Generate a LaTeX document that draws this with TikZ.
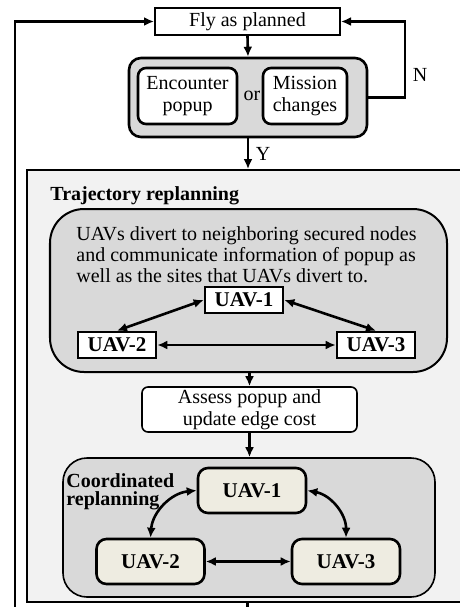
\documentclass[tikz,border=0pt]{standalone}
\usepackage{fontspec}
\setmainfont{Liberation Serif}
\usetikzlibrary{arrows.meta}
\definecolor{grisclair}{HTML}{F2F2F2}
\definecolor{gris}{HTML}{D9D9D9}
\definecolor{beige}{HTML}{EEECE1}

\begin{document}
\begin{tikzpicture}[x=0.5pt, y=-0.5pt, font=\fontsize{10}{11}\selectfont]
	\tikzset{boite/.style={draw=black, line width=1pt, inner sep=0pt}, fleche/.style={>={Latex[length=5pt,width=4.5pt]}, <-, line width=1.3pt}, duo/.style={>={Latex[length=5pt,width=4.5pt]}, <->, line width=1.3pt}, uav/.style={boite, line width=1.3pt, font=\fontsize{10.5}{11}\selectfont\bfseries}};
	\useasboundingbox (0,0) rectangle (460,607);

	\node[boite, fill=grisclair, minimum width=231.5pt, minimum height=216pt] (traj) at (258.5,386) {};

	\node[boite, fill=white, minimum width=92.5pt, minimum height=13.5pt] (fly) at (247.5,21.5) {Fly as planned};
	\node[boite, fill=gris, rounded corners=6pt, line width=1.3pt, minimum width=119pt, minimum height=39.5pt] (cas) at (248,97.5) {};
	\node[boite, fill=white, rounded corners=4pt, line width=1.3pt, minimum width=49.5pt, minimum height=28pt, align=center] (enc) at (187.5,96) {Encounter\\popup};
	\node (ou) at (252,96) {or};
	\node[boite, fill=white, rounded corners=4pt, line width=1.3pt, minimum width=42pt, minimum height=28pt, align=center] (mis) at (305,96) {Mission\\changes};

	\node[anchor=base west, font=\fontsize{10}{11}\selectfont\bfseries, inner sep=0pt] (titre) at (50,200) {Trajectory replanning};
	\node[boite, fill=gris, rounded corners=17pt, minimum width=198.5pt, minimum height=81.5pt] (div) at (248.5,290.5) {};
	\node[anchor=north west, align=left, inner sep=0pt, font=\fontsize{10}{10.5}\selectfont] (txt) at (76,226) {UAVs divert to neighboring secured nodes\\and communicate information of popup as\\well as the sites that UAVs divert to.};
	\node[uav, fill=white, minimum width=39pt, minimum height=13pt] (ua1) at (244,300) {UAV-1};
	\node[uav, fill=white, minimum width=39pt, minimum height=13pt] (ua2) at (117,345) {UAV-2};
	\node[uav, fill=white, minimum width=39pt, minimum height=13pt] (ua3) at (376,345) {UAV-3};

	\node[boite, fill=white, rounded corners=3pt, line width=0.8pt, minimum width=107.5pt, minimum height=22.5pt, align=center] (ass) at (249.5,409.5) {Assess popup and\\update edge cost};

	\node[boite, fill=gris, rounded corners=12pt, line width=0.8pt, minimum width=186pt, minimum height=69.5pt] (crd) at (249,527.5) {};
	\node[anchor=north west, align=left, inner sep=0pt, font=\fontsize{10}{9}\selectfont\bfseries] (ctitre) at (66,473) {Coordinated\\replanning};
	\node[uav, fill=beige, rounded corners=5pt, minimum width=54pt, minimum height=22.5pt] (cu1) at (252,490.5) {UAV-1};
	\node[uav, fill=beige, rounded corners=5pt, minimum width=54pt, minimum height=22.5pt] (cu2) at (150.5,561.5) {UAV-2};
	\node[uav, fill=beige, rounded corners=5pt, minimum width=54pt, minimum height=22.5pt] (cu3) at (346,561.5) {UAV-3};

	\coordinate (retour) at (15,630);

	\draw[fleche] (cas.north) -- (fly.south);
	\draw[fleche] (fly.east) -| (405,97.5) node[right, pos=0.85] {N} -- (cas.east);
	\draw[fleche] (traj.north -| cas.south) -- node[right] {Y} (cas.south);
	\draw[fleche] (fly.west) -| (retour) -| (traj.south -| fly.south);

	\draw[duo] (ua2.north) -- (ua1.west);
	\draw[duo] (ua1.east) -- (ua3.north);
	\draw[duo] (ua2.east) -- (ua3.west);

	\draw[fleche] (ass.north) -- (div.south -| ass.north);
	\draw[fleche] (crd.north -| ass.south) -- (ass.south);

	\draw[duo] (cu2.north) to[bend left=40] (cu1.west);
	\draw[duo] (cu1.east) to[bend left=40] (cu3.north);
	\draw[duo] (cu2.east) -- (cu3.west);

\end{tikzpicture}
\end{document}
